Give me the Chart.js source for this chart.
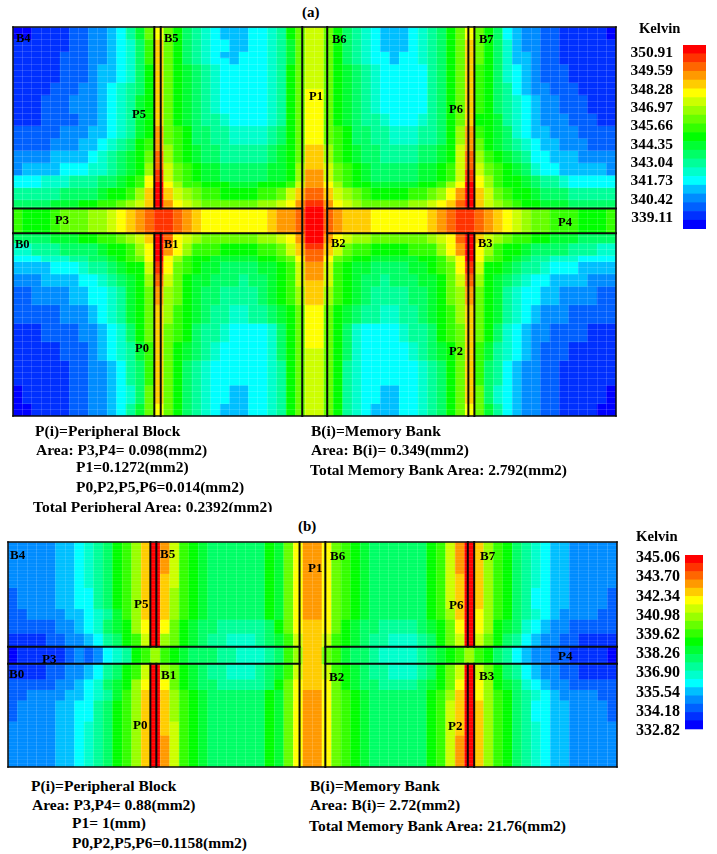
<!DOCTYPE html>
<html>
<head>
<meta charset="utf-8">
<title>Thermal maps</title>
<script src="https://cdn.jsdelivr.net/npm/chart.js@4"></script>
<style>
html,body{margin:0;padding:0;background:#fff;width:717px;height:854px;overflow:hidden}
canvas{position:absolute;display:block}
.t{position:absolute;font-family:"Liberation Serif",serif;font-weight:bold;color:#000;white-space:nowrap;line-height:1;transform:translateY(-50%)}
.clip{position:absolute;overflow:hidden;white-space:nowrap;font-family:"Liberation Serif",serif;font-weight:bold;color:#000;line-height:18px}
</style>
</head>
<body>
<canvas id="mapA" width="613" height="399" style="left:8px;top:22px"></canvas>
<canvas id="mapAo" width="613" height="399" style="left:8px;top:22px"></canvas>
<canvas id="mapB" width="619" height="235" style="left:3.3px;top:537.3px"></canvas>
<canvas id="mapBo" width="619" height="235" style="left:3.3px;top:537.3px"></canvas>
<canvas id="barA" width="86" height="204" style="left:620px;top:35px"></canvas>
<canvas id="barB" width="84" height="204" style="left:619px;top:545px"></canvas>
<script>
// Temperature band per cell: 0 (coldest, blue) .. k (hottest, red).
// Row layout: B4/B0 column block | P5/P0 | B5/B1 | P1 | B6/B2 | P6/P2 | B7/B3
const levelKeys = "0123456789abcdefghijk";
const bandColors = ["#0000ff","#0030ff","#0060ff","#008cff","#00bfff","#00ffff","#00ffcc","#00ff99","#00ff66","#00ff33","#00ff00","#33ff00","#66ff00","#99ff00","#ccff00","#ffff00","#ffcc00","#ff9900","#ff6600","#ff3300","#ff0000"];

const ticksA = [350.91,349.59,348.28,346.97,345.66,344.35,343.04,341.73,340.42,339.11];
const ticksB = [345.06,343.70,342.34,340.98,339.62,338.26,336.90,335.54,334.18,332.82];

const spansA = [2,2,1,1,3,1,1,3,2,2,1,1,2,1,1,1,1,2,1,0.4, 4, 1.6,1,1,1,2,1,1,3,3,3,1,2,4,3,2];
const rowsA = [
"00111122334579c f ca87654445567ac ee ca87654445678ac f ca8543322111110",
"11111122334568b g ca876554455679c ee ca87654445678ac g ca8643322111111",
"11111222334568b g ca876544555679c ee ca87655455678ac g ca8644322111111",
"11111222334568b g ca876554555679c ee ca87655455678ac g ca8644322111111",
"11111222344568a g ca98765555567ac ee ca98765555578ac g ba8654322211111",
"11112223345678a g ca98765555567ac ee ca98765555578ac g ba8754332221111",
"11112223345678a g ca98765555567ac ff ca98765555578ac g ba8754332221111",
"11122233345679a g ca98765555567ac ff ca98765555578ac g ba8765433222111",
"11122223345679a g ca98776555567ac ff ca98776555678ac g aa9765433322211",
"22222333445679a h cba8877666678ac ff cba8877666778ad h ba9865443332222",
"2222333445678ab h cba8877666678ac ff cba8877666778ad h ca9876544333222",
"2222333445678ab h dba9887777789ac gg dba9887777889ae h ca9876544333222",
"3333444456789ac i dba9887777789ac gg dba9887777889ae i dba987554443333",
"3444455566789ad i ecba998888899ad gg ecba98888899abe i ecba98655444443",
"3444455566789ad j ecba998888899ad hh ecba98888899abe j ecba98655444443",
"555666777889abf j ecba998888899ad hh ecba98888899abe j fdbaa9877655555",
"555666777889abf k fdbbaaa999aaabe hh fdbaa99999aabdf k fdbaa9877655555",
"7777788889aabdg k gedcbbaaaabbceg ii gedcbaaaabbcdfh k gecbaa988877777",
"8888999aabbcdeg k hfedccccccddefh jj hfedcccccddefgi k gedcbaa99988888",
"8888999aabbcdeg k hfedccccccddefh kk hfedcccccddefgi k gedcbaa99988888",
"baaabcccddefghi j jihgfffffffghhi kk ihgggffffffghij j ihgfedccbbbaaab",
"8888999aabbcdeg k ifedccccccddefh kk hfeddccccccdefi k gedcbbaa9998888",
"6677788889aabdf k hfdbbbaaaabbceg jj gecbbaaaabbbdfh k fdbaa9888877766",
"6677788889aabdf k hfdbbbaaaabbceg ii gecbbaaaabbbdfh k fdbaa9888877766",
"55566677889abcf k fdbaa99999aabcf ii fcbaa99999aabdf k fcba98776665555",
"444455567789aae j fcba99888899abe hh eba99888899abcf j eaa987765554444",
"3334444556789ad i eca998887889abe hh eba988788899ace i da9876554444333",
"3334444556789ad i eca998887889abe gg eba988788899ace i da9876554444333",
"2233334455679ac h dca988777789abd gg dba987777889acd h ca9765544333322",
"2222233345679ac g dba9877667789ac ff ca9877667789abd g ca9765433322222",
"1112222334568ac g cba8776555568ac ff ca8655556778abc g ca8654332222111",
"11111222345679b g ca98765555568ac ff ca86555556789ac g b97654322211111",
"11111222345679b g ca98765555568ac ee ca86555556789ac g b97654322211111",
"11111122334578b g ca87655555567ac ee ca76555555678ac g b87543322111111",
"01111122334568c g ca87655445567ac ee ca76554455678ac g c86543322111110",
"00111122334579c f ca87654445567ac ee ca76544455678ac f c97543322111100"
];

const spansB = [9,4,6,3,4,3.77, 4.86, 4.37,3,3,6,4,9];
const rowsB = [
"33333445678abdg k heba9888888a9cf hh fcba9888888abeh k gdba87654433333",
"33333445678abdg k geba9888888a9cf hh fcba9888888abeg k gdba87654433333",
"23333445578abdg k gdba9888888a9cf hh fcba9888888abeg k gdba87554433332",
"223333445679bdg k gdba9888888a9cf hh fcba9888888abdg k fdba87654333322",
"222223345689adf k fca988777778acf gg fca988777789acf k fda986543322222",
"111122334578abe k dca9877666789be gg eba987766678ace k eca875433221111",
"0111112323567ab d ba98887766678bd gg cb98876666789ab d ba8754332211110",
"111122334578abe k dca9877666789be gg eba987766678ace k eca875433221111",
"222223345689adf k fca988777778acf gg fca988777789acf k fda986543322222",
"223333445679bdg k gdba9888888a9cf hh fcba9888888abdg k fdba87654333322",
"23333445578abdg k gdba9888888a9cf hh fcba9888888abeg k gdba87554433332",
"33333445678abdg k geba9888888a9cf hh fcba9888888abeg k gdba87654433333",
"33333445678abdg k heba9888888a9cf hh fcba9888888abeh k gdba87654433333"
];

// Block outlines in cell coordinates: [x0, y0, x1, y1]
const outlinesA = [
[15,0,15,29.4],[15.68,0,15.68,29.4],[15,33.4,15,63],[15.68,33.4,15.68,63],
[48.33,0,48.33,29.4],[48.97,0,48.97,29.4],[48.33,33.4,48.33,63],[48.97,33.4,48.97,63],
[30.7,0,30.7,63],[33.35,0,33.35,63],
[0,29.4,30.7,29.4],[0,33.4,30.7,33.4],[33.35,29.4,64,29.4],[33.35,33.4,64,33.4]
];
const outlinesB = [
[14.96,0,14.96,29.77],[15.59,0,15.59,29.77],[14.96,34.63,14.96,64],[15.59,34.63,15.59,64],
[48.32,0,48.32,29.77],[48.99,0,48.99,29.77],[48.32,34.63,48.32,64],[48.99,34.63,48.99,64],
[30.64,0,30.64,64],[33.35,0,33.35,64],
[0,29.77,30.64,29.77],[0,34.63,30.64,34.63],[33.35,29.77,64,29.77],[33.35,34.63,64,34.63]
];

const zeroSize = s => { if (s.isHorizontal()) s.height = 0; else s.width = 0; s.paddingLeft = s.paddingRight = s.paddingTop = s.paddingBottom = 0; };

function heatMap(id, rows, spans, nRows, pad, gridX, gridY){
  const sets = [];
  let top = 0;
  rows.forEach((r,i)=>{
    const cells = r.replace(/ /g,'').split('').map(c=>levelKeys.indexOf(c));
    const y0 = top, y1 = top + spans[i];
    sets.push({data:cells.map((_,k)=>({x:k+0.5,y:[y0,y1]})),
      backgroundColor:cells.map(l=>bandColors[l]),grouped:false,barPercentage:1,categoryPercentage:1,borderWidth:0});
    top = y1;
  });
  new Chart(document.getElementById(id),{
    type:'bar',data:{datasets:sets},
    options:{responsive:false,animation:false,events:[],
      layout:{autoPadding:false,padding:pad},
      plugins:{legend:{display:false},tooltip:{enabled:false},title:{display:false}},
      scales:{
        x:{type:'linear',offset:false,min:0,max:64,afterFit:zeroSize,border:{display:false},grid:{offset:false,color:gridX,z:1,drawTicks:false},ticks:{display:false,stepSize:1,autoSkip:false}},
        y:{type:'linear',reverse:true,min:0,max:nRows,afterFit:zeroSize,border:{display:false},grid:{color:gridY,z:1,drawTicks:false},ticks:{display:false,stepSize:1,autoSkip:false}}
      }}
  });
}
function outlineLayer(id, outlines, nRows, pad){
  const seg = (s,w)=>({data:[{x:s[0],y:s[1]},{x:s[2],y:s[3]}],borderColor:'#0a0a0a',borderWidth:w,pointRadius:0,fill:false,tension:0,clip:false,borderCapStyle:'square'});
  const sets = outlines.map(s=>seg(s,2));
  [[0,0,64,0],[0,nRows,64,nRows],[0,0,0,nRows],[64,0,64,nRows]].forEach(s=>sets.push(seg(s,1.5)));
  new Chart(document.getElementById(id),{
    type:'line',data:{datasets:sets},
    options:{responsive:false,animation:false,events:[],
      layout:{autoPadding:false,padding:pad},
      plugins:{legend:{display:false},tooltip:{enabled:false}},
      scales:{x:{type:'linear',display:false,min:0,max:64},y:{type:'linear',display:false,reverse:true,min:0,max:nRows}}}
  });
}
heatMap('mapA',rowsA,spansA,63,5,'rgba(255,255,255,.14)','rgba(255,255,255,.14)');
outlineLayer('mapAo',outlinesA,63,5);
heatMap('mapB',rowsB,spansB,64,5,'rgba(255,255,255,.15)','rgba(255,255,255,.08)');
outlineLayer('mapBo',outlinesB,64,5);

function colorBar(id, ticks, lo, hi, axisMin, axisMax, padTop, padBottom, fontSize, axisWidth, tickGap){
  const step = (hi-lo)/bandColors.length;
  const sets = bandColors.map((c,i)=>({data:[[lo+i*step,lo+(i+1)*step]],backgroundColor:c,grouped:false,barPercentage:1,categoryPercentage:1,borderWidth:0}));
  new Chart(document.getElementById(id),{
    type:'bar',data:{labels:['Kelvin'],datasets:sets},
    options:{responsive:false,animation:false,events:[],
      layout:{autoPadding:false,padding:{top:padTop,bottom:padBottom,left:0,right:0}},
      plugins:{legend:{display:false},tooltip:{enabled:false}},
      scales:{
        x:{display:false},
        y:{type:'linear',position:'left',min:axisMin,max:axisMax,border:{display:false},grid:{display:false,drawTicks:false},
           afterBuildTicks:s=>{s.ticks=ticks.map(v=>({value:v}));},
           afterFit:s=>{s.width=axisWidth;s.paddingTop=s.paddingBottom=0;},
           ticks:{autoSkip:false,padding:tickGap,color:'#000',font:{family:'"Liberation Serif",serif',weight:'bold',size:fontSize},callback:v=>Number(v).toFixed(2)}}
      }}
  });
}
colorBar('barA',ticksA,338.32,351.48,338.32,351.48,10,10,15.5,63,10);
colorBar('barB',ticksB,332.96,345.27,332.25,345.27,10,10,16,66,5);

const textItems = [
// panel titles and units
["(a)",302,12,15],["(b)",298,526,15],["Kelvin",639,28,14.6],["Kelvin",636,536,14.7],
// panel (a) blocks
["B4",16,38,12.5],["B5",164,38,12.5],["B6",332,39,12.5],["B7",479,39,12.5],
["P5",132,114,12.5],["P6",449,109,12.5],["P1",309,96,12.5],["P3",55,220,12.5],["P4",558,222,12.5],
["B0",15,244,12.5],["B1",164,244,12.5],["B2",331,243,12.5],["B3",478,243,12.5],["P0",135,348,12.5],["P2",449,351,12.5],
// panel (b) blocks
["B4",10,554,13],["B5",160,553,13],["B6",330,555,13],["B7",480,555,13],
["P5",134,603,13],["P6",449,604,13],["P1",308,567,13],["P3",42,658,13],["P4",558,655,13],
["B0",9,673,13],["B1",161,674,13],["B2",329,676,13],["B3",479,675,13],["P0",133,724,13],["P2",448,725,13],
// caption (a)
["P(i)=Peripheral Block",35,431,15.5],["Area: P3,P4= 0.098(mm2)",36,450,15.5],["P1=0.1272(mm2)",76,467,15.5],["P0,P2,P5,P6=0.014(mm2)",76,487,15.5],
["B(i)=Memory Bank",311,431,15.5],["Area: B(i)= 0.349(mm2)",311,450,15.5],["Total Memory Bank Area: 2.792(mm2)",310,470,15.5],
// caption (b)
["P(i)=Peripheral Block",31,786,15.5],["Area: P3,P4= 0.88(mm2)",32,805,15.5],["P1= 1(mm)",72,823,15.5],["P0,P2,P5,P6=0.1158(mm2)",72,843,15.5],
["B(i)=Memory Bank",310,786,15.5],["Area: B(i)= 2.72(mm2)",310,805,15.5],["Total Memory Bank Area: 21.76(mm2)",309,826,15.5]
];
textItems.forEach(([s,x,y,size])=>{
  const d=document.createElement('div');d.className='t';d.textContent=s;
  d.style.left=x+'px';d.style.top=y+'px';d.style.fontSize=size+'px';document.body.appendChild(d);
});
const cut=document.createElement('div');cut.className='clip';cut.textContent='Total Peripheral Area: 0.2392(mm2)';
cut.style.cssText+='left:33px;top:498px;height:14px;width:300px;font-size:15.5px';
document.body.appendChild(cut);
</script>
</body>
</html>
